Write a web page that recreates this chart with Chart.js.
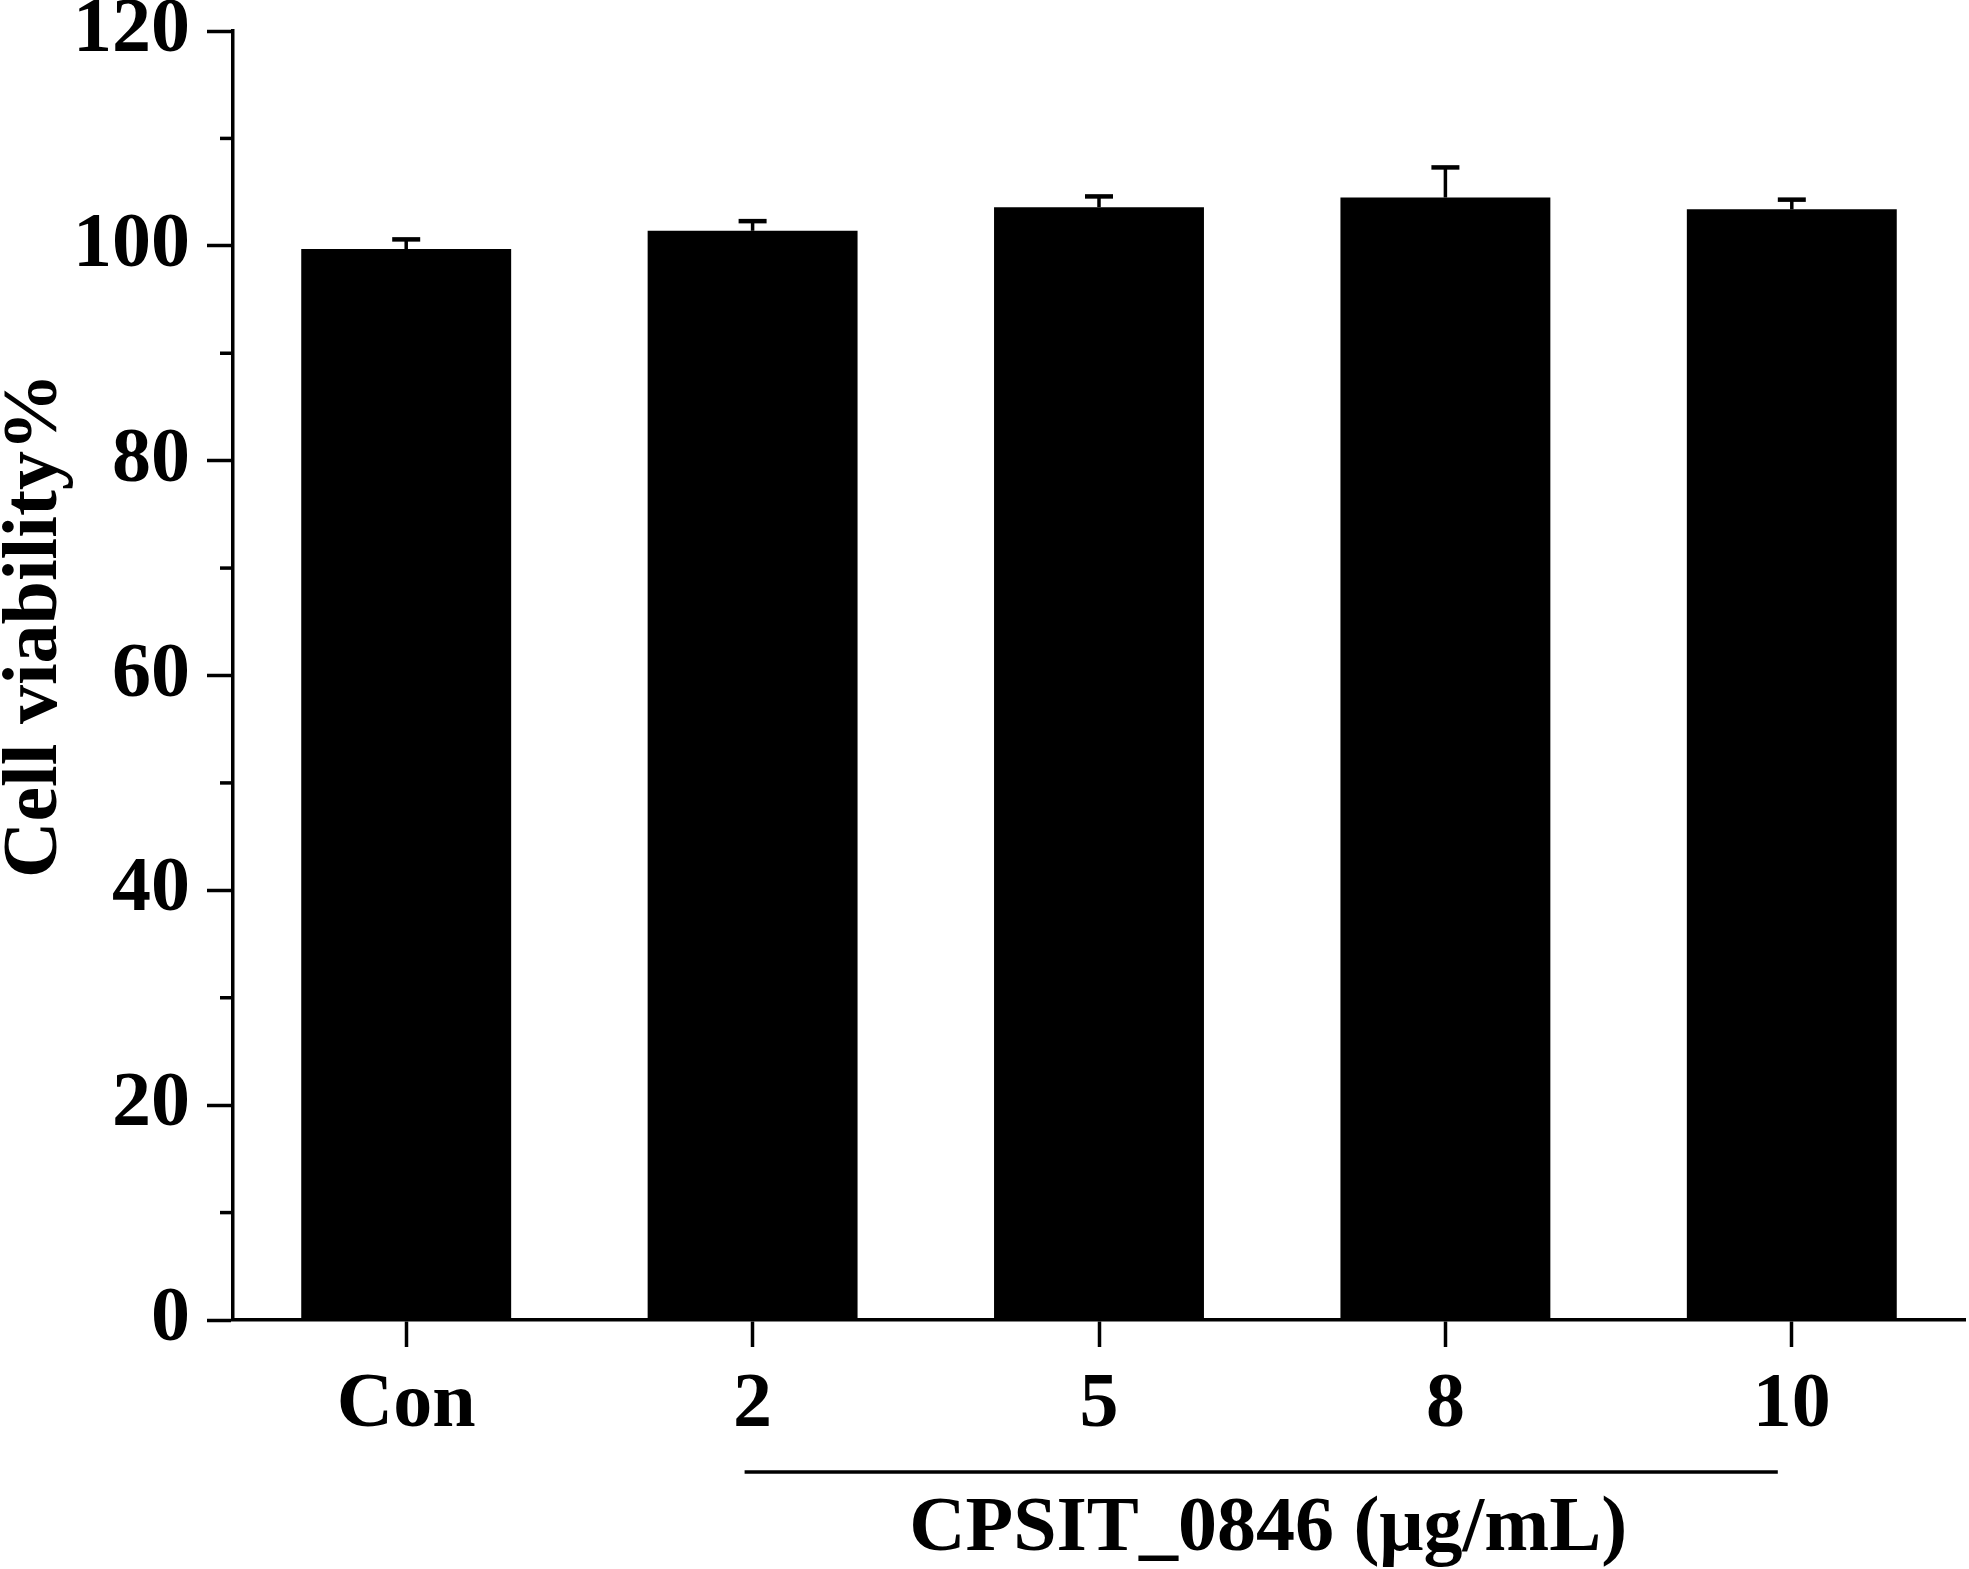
<!DOCTYPE html>
<html>
<head>
<meta charset="utf-8">
<script src="https://cdn.jsdelivr.net/npm/chart.js@4.4.1/dist/chart.umd.min.js"></script>
<style>
html,body{margin:0;padding:0;background:#fff;}
#wrap{width:1969px;height:1569px;position:relative;}
</style>
</head>
<body>
<div id="wrap"><canvas id="c" width="1969" height="1569"></canvas></div>
<script>
const categories = ['Con', '2', '5', '8', '10'];
const viability = [99.7, 101.4, 103.6, 104.5, 103.4];
const errors = [0.9, 0.9, 1.0, 2.8, 0.9];
const yTickValues = [0, 20, 40, 60, 80, 100, 120];
const yMinorValues = [10, 30, 50, 70, 90, 110];
const yTitle = 'Cell viability%';
const xGroupTitle = 'CPSIT_0846 (μg/mL)';

const FONT = "'Liberation Serif', 'Times New Roman', serif";

const extras = {
  id: 'extras',
  afterDatasetsDraw(chart) {
    const ctx = chart.ctx;
    const xs = chart.scales.x, ys = chart.scales.y;
    ctx.save();
    ctx.strokeStyle = '#000';
    ctx.lineWidth = 3.5;
    ctx.lineCap = 'butt';
    // error bars (upper only)
    viability.forEach((v, i) => {
      const x = xs.getPixelForValue(i);
      const y0 = ys.getPixelForValue(v);
      const y1 = ys.getPixelForValue(v + errors[i]);
      ctx.beginPath();
      ctx.moveTo(x, y0);
      ctx.lineTo(x, y1);
      ctx.stroke();
      ctx.beginPath();
      ctx.lineWidth = 4.5;
      ctx.moveTo(x - 14, y1);
      ctx.lineTo(x + 14, y1);
      ctx.stroke();
      ctx.lineWidth = 3.5;
    });
    // minor y ticks
    const left = chart.chartArea.left;
    yMinorValues.forEach(v => {
      const y = ys.getPixelForValue(v);
      ctx.beginPath();
      ctx.moveTo(left - 13, y);
      ctx.lineTo(left, y);
      ctx.stroke();
    });
    // y title
    ctx.fillStyle = '#000';
    ctx.font = "bold 78px " + FONT;
    ctx.textAlign = 'center';
    ctx.textBaseline = 'alphabetic';
    ctx.save();
    ctx.translate(56, (chart.chartArea.top + chart.chartArea.bottom) / 2 - 50);
    ctx.rotate(-Math.PI / 2);
    ctx.fillText(yTitle, 0, 0);
    ctx.restore();
    // group bracket and title
    const xl = xs.getPixelForValue(1) - 8;
    const xr = xs.getPixelForValue(4) - 14;
    const yl = chart.chartArea.bottom + 152;
    ctx.beginPath();
    ctx.lineWidth = 3.5;
    ctx.moveTo(xl, yl);
    ctx.lineTo(xr, yl);
    ctx.stroke();
    ctx.fillText(xGroupTitle, (xl + xr) / 2 + 7, chart.chartArea.bottom + 230);
    ctx.restore();
  }
};

new Chart(document.getElementById('c'), {
  type: 'bar',
  data: {
    labels: categories,
    datasets: [{
      data: viability,
      backgroundColor: '#000',
      borderWidth: 0,
      categoryPercentage: 1.0,
      barPercentage: 0.606
    }]
  },
  options: {
    responsive: false,
    devicePixelRatio: 1,
    animation: false,
    layout: { padding: { top: 31, right: 4, left: 0, bottom: 0 } },
    plugins: { legend: { display: false }, tooltip: { enabled: false } },
    scales: {
      x: {
        offset: true,
        grid: { display: true, offset: false, drawOnChartArea: false, drawTicks: true, tickLength: 27, tickWidth: 3.5, tickColor: '#000' },
        border: { display: true, color: '#000', width: 3.5 },
        ticks: { color: '#000', font: { family: FONT, size: 78, weight: 'bold' }, padding: 12, maxRotation: 0 },
        afterFit(s) { s.height = 249; s.paddingLeft = 0; s.paddingRight = 0; }
      },
      y: {
        min: 0, max: 120,
        afterBuildTicks(s) { s.ticks = yTickValues.map(v => ({ value: v })); },
        grid: { display: true, drawOnChartArea: false, drawTicks: true, tickLength: 26, tickWidth: 3.5, tickColor: '#000' },
        border: { display: true, color: '#000', width: 3.5 },
        ticks: { color: '#000', font: { family: FONT, size: 78, weight: 'bold' }, padding: 17 },
        afterFit(s) { s.width = 233; s.paddingTop = 0; s.paddingBottom = 0; }
      }
    }
  },
  plugins: [extras]
});
</script>
</body>
</html>
